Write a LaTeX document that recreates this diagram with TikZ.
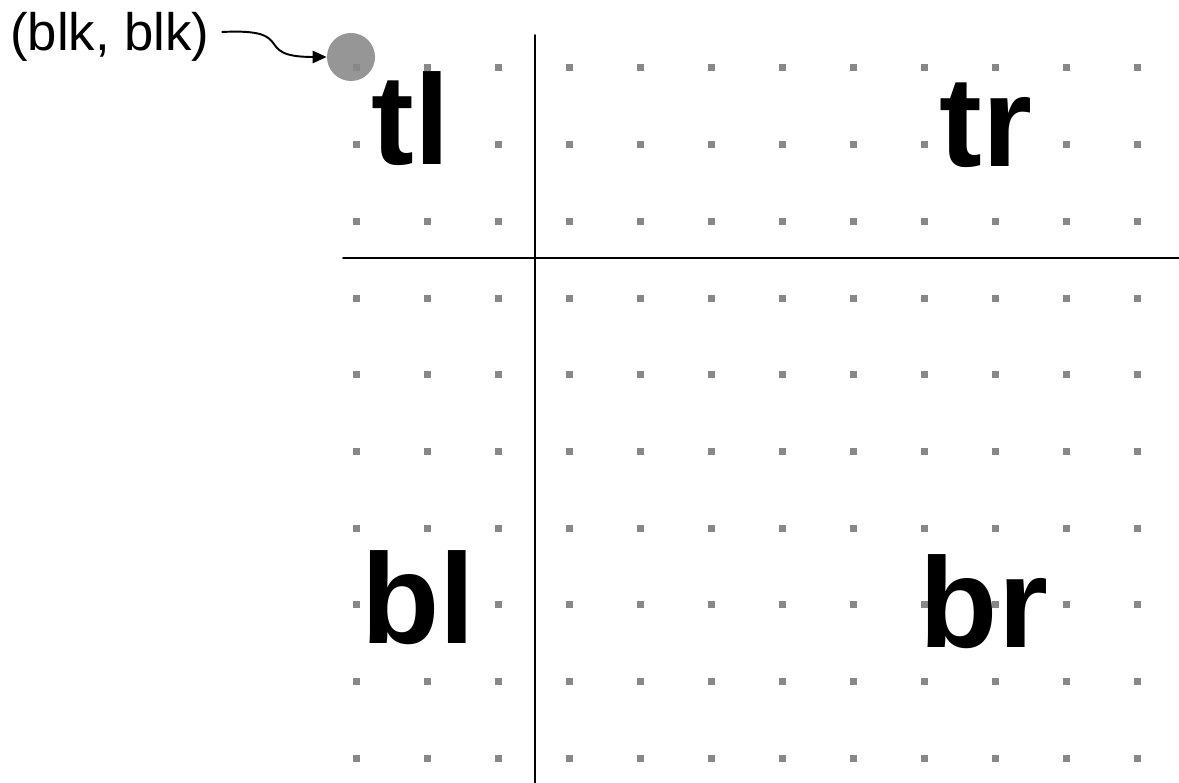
\documentclass[tikz,border=0pt]{standalone}
\usepackage{fontspec}
\setmainfont{Liberation Sans}
\usetikzlibrary{arrows.meta}

\definecolor{dotgray}{RGB}{136,136,136}
\definecolor{ptgray}{RGB}{150,150,150}

\begin{document}
\begin{tikzpicture}[x=0.02cm, y=-0.02cm, line join=round, line cap=round]
        % ---------------------------------------------------
        % 격자 간격 (픽셀 단위)
        % ---------------------------------------------------
        \def\gx{71}
        \def\gy{76.7}
        \useasboundingbox (0,0) rectangle (1179,783);

        % 시작점 (blk, blk)
        \node[circle, fill=ptgray, minimum size=48*0.02cm, inner sep=0pt] (pt) at (351,57) {};

        % 점 격자
        \foreach \c in {0,...,11} {
            \foreach \r in {0,...,9} {
                \fill[dotgray] (356+\gx*\c, 68+\gy*\r) +(-3.5,-3.5) rectangle +(3.5,3.5);
            }
        }

        % 분할선
        \coordinate (V1) at (535,35);
        \coordinate (V2) at (535,783);
        \coordinate (H1) at (343,258);
        \coordinate (H2) at (1179,258);
        \draw[black, line width=1.1pt] (V1) -- (V2);
        \draw[black, line width=1.1pt] (H1) -- (H2);

        % 사분면 라벨
        \node[inner sep=0pt, anchor=base, font=\fontsize{73}{80}\selectfont\bfseries] (tl) at (411,165) {tl};
        \node[inner sep=0pt, anchor=base, font=\fontsize{73}{80}\selectfont\bfseries] (tr) at (986,167) {tr};
        \node[inner sep=0pt, anchor=base, font=\fontsize{73}{80}\selectfont\bfseries] (bl) at (418,643) {bl};
        \node[inner sep=0pt, anchor=base, font=\fontsize{73}{80}\selectfont\bfseries] (br) at (984,647) {br};

        % 좌표 라벨과 화살표
        \node[inner sep=0pt, anchor=base, font=\fontsize{30}{34}\selectfont] (lbl) at (110,51) {(blk, blk)};
        \draw[black, line width=1.1pt, -{Triangle[length=8pt, width=7pt]}]
            ([xshift=7pt]lbl.east |- 0,32) .. controls (300,28) and (250,57) .. (pt.west);
\end{tikzpicture}
\end{document}
